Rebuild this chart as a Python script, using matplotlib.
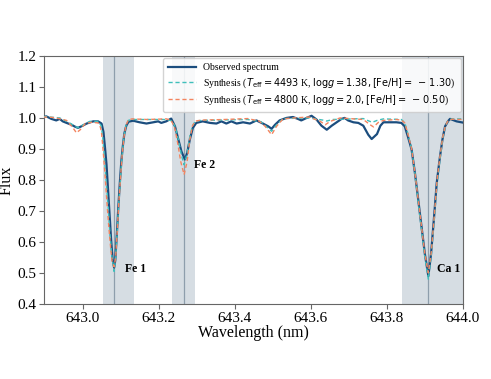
import matplotlib
matplotlib.use("Agg")
import matplotlib.pyplot as plt

plt.rcParams["font.family"] = ["Liberation Serif", "DejaVu Serif"]
plt.rcParams["mathtext.fontset"] = "dejavusans"

# observed spectrum
obs_wave = [642.896, 642.905, 642.918, 642.931, 642.940, 642.948, 642.958, 642.971, 642.980,
            642.988, 642.997, 643.011, 643.028, 643.041, 643.050, 643.055, 643.059, 643.063,
            643.067, 643.071, 643.075, 643.079, 643.083, 643.086, 643.090, 643.094, 643.098,
            643.102, 643.106, 643.110, 643.115, 643.121, 643.133, 643.150, 643.168, 643.186,
            643.199, 643.207, 643.220, 643.233, 643.243, 643.252, 643.260, 643.269, 643.275,
            643.282, 643.290, 643.299, 643.316, 643.335, 643.352, 643.365, 643.378, 643.391,
            643.405, 643.422, 643.440, 643.457, 643.474, 643.488, 643.497, 643.506, 643.518,
            643.536, 643.553, 643.566, 643.575, 643.589, 643.602, 643.615, 643.628, 643.642,
            643.655, 643.668, 643.681, 643.689, 643.698, 643.712, 643.725, 643.738, 643.751,
            643.760, 643.774, 643.783, 643.791, 643.808, 643.825, 643.838, 643.847, 643.855,
            643.865, 643.874, 643.883, 643.892, 643.900, 643.909, 643.916, 643.924, 643.931,
            643.939, 643.946, 643.953, 643.961, 643.966, 643.983, 644.000]
obs_flux = [1.003, 1.005, 0.997, 0.992, 0.997, 0.989, 0.984, 0.978, 0.972,
            0.968, 0.973, 0.982, 0.989, 0.989, 0.982, 0.955, 0.905, 0.850,
            0.770, 0.690, 0.610, 0.545, 0.517, 0.540, 0.620, 0.710, 0.790,
            0.860, 0.910, 0.950, 0.975, 0.988, 0.991, 0.986, 0.982, 0.986,
            0.989, 0.984, 0.989, 0.998, 0.973, 0.930, 0.892, 0.866, 0.887,
            0.930, 0.968, 0.984, 0.989, 0.984, 0.982, 0.989, 0.982, 0.989,
            0.982, 0.986, 0.982, 0.992, 0.982, 0.973, 0.965, 0.978, 0.992,
            1.000, 1.003, 0.997, 0.992, 1.000, 1.007, 0.995, 0.975, 0.962,
            0.975, 0.986, 0.997, 1.000, 0.992, 0.986, 0.984, 0.975, 0.946,
            0.932, 0.948, 0.975, 0.986, 0.986, 0.986, 0.984, 0.973, 0.941,
            0.898, 0.820, 0.730, 0.640, 0.560, 0.490, 0.560, 0.680, 0.790,
            0.870, 0.930, 0.973, 0.990, 0.997, 0.989, 0.985]

# synthesis Teff=4493 K
syn1_wave = [642.896, 642.940, 642.966, 642.988, 643.002, 643.019, 643.041, 643.049, 643.053,
             643.057, 643.062, 643.067, 643.072, 643.077, 643.083, 643.087, 643.091, 643.095,
             643.100, 643.104, 643.109, 643.114, 643.120, 643.130, 643.221, 643.236, 643.244,
             643.252, 643.260, 643.267, 643.274, 643.282, 643.289, 643.297, 643.312, 643.434,
             643.469, 643.485, 643.497, 643.510, 643.527, 643.596, 643.632, 643.642, 643.657,
             643.738, 643.753, 643.762, 643.774, 643.791, 643.838, 643.847, 643.855, 643.865,
             643.874, 643.883, 643.892, 643.900, 643.909, 643.917, 643.925, 643.932, 643.940,
             643.947, 643.954, 643.961, 643.971, 644.000]
syn1_flux = [1.005, 1.000, 0.984, 0.968, 0.978, 0.989, 0.989, 0.975, 0.940,
             0.880, 0.800, 0.720, 0.630, 0.555, 0.505, 0.550, 0.630, 0.720,
             0.810, 0.880, 0.940, 0.975, 0.992, 0.995, 0.995, 0.990, 0.970,
             0.930, 0.880, 0.849, 0.880, 0.940, 0.975, 0.990, 0.992, 0.995,
             0.988, 0.970, 0.957, 0.978, 0.998, 1.000, 0.993, 0.990, 0.995,
             0.998, 0.990, 0.986, 0.992, 0.997, 0.995, 0.985, 0.950, 0.900,
             0.820, 0.720, 0.630, 0.550, 0.480, 0.560, 0.680, 0.790, 0.870,
             0.935, 0.975, 0.992, 0.997, 0.997]

# synthesis Teff=4800 K
syn2_wave = [642.896, 642.918, 642.931, 642.958, 642.975, 642.984, 642.994, 643.007, 643.024,
             643.041, 643.047, 643.050, 643.054, 643.059, 643.064, 643.069, 643.074, 643.078,
             643.083, 643.087, 643.091, 643.095, 643.100, 643.104, 643.109, 643.114, 643.120,
             643.130, 643.170, 643.221, 643.233, 643.242, 643.250, 643.258, 643.267, 643.275,
             643.282, 643.289, 643.297, 643.312, 643.373, 643.434, 643.464, 643.480, 643.497,
             643.510, 643.527, 643.555, 643.596, 643.625, 643.638, 643.651, 643.677, 643.738,
             643.756, 643.765, 643.778, 643.791, 643.825, 643.838, 643.847, 643.855, 643.865,
             643.874, 643.883, 643.892, 643.900, 643.909, 643.917, 643.925, 643.932, 643.940,
             643.947, 643.954, 643.961, 643.971, 644.000]
syn2_flux = [1.003, 1.002, 1.000, 0.992, 0.968, 0.952, 0.962, 0.982, 0.986,
             0.984, 0.970, 0.952, 0.898, 0.820, 0.730, 0.650, 0.580, 0.535,
             0.520, 0.550, 0.630, 0.720, 0.810, 0.880, 0.940, 0.975, 0.993,
             0.997, 0.995, 0.997, 0.992, 0.970, 0.920, 0.860, 0.817, 0.860,
             0.930, 0.975, 0.990, 0.993, 0.995, 0.998, 0.990, 0.973, 0.946,
             0.973, 0.997, 1.000, 1.003, 0.989, 0.978, 0.989, 1.000, 0.995,
             0.978, 0.971, 0.986, 0.992, 0.995, 0.993, 0.984, 0.950, 0.900,
             0.820, 0.730, 0.640, 0.560, 0.500, 0.570, 0.690, 0.800, 0.880,
             0.940, 0.975, 0.992, 0.996, 0.995]

line_names = ["Fe 1", "Fe 2", "Ca 1"]
line_centers = [643.083, 643.267, 643.909]
band_lo = [643.054, 643.234, 643.839]
band_hi = [643.136, 643.295, 644.0]
label_x = [643.111, 643.293, 643.931]
label_y = [0.514, 0.847, 0.514]

fig = plt.figure(figsize=(4.91, 3.79), dpi=100)
ax = fig.add_axes([0.0906, 0.198, 0.8523, 0.6544])

for lo, hi, c in zip(band_lo, band_hi, line_centers):
    ax.axvspan(lo, hi, color="#d6dde3", lw=0, zorder=0)
    ax.axvline(c, color="#8e9eac", lw=0.9, zorder=1)

ax.plot(obs_wave, obs_flux, color="#1b4d7e", lw=1.6, zorder=3, label="Observed spectrum")
ax.plot(syn1_wave, syn1_flux, color="#3fbfbb", lw=1.0, ls=(0, (3, 2)), zorder=4,
        label=r"Synthesis ($T_{\rm eff}=4493$ K, ${\rm log}g=1.38, {\rm [Fe/H]}=\,-\,1.30$)")
ax.plot(syn2_wave, syn2_flux, color="#f3845f", lw=1.0, ls=(0, (3, 2)), zorder=4,
        label=r"Synthesis ($T_{\rm eff}=4800$ K, ${\rm log}g=2.0, {\rm [Fe/H]}=\,-\,0.50$)")

for name, x, y in zip(line_names, label_x, label_y):
    ax.text(x, y, name, fontsize=8.5, fontweight="bold", ha="left", va="center")

ax.set_xlim(642.9, 644.0)
ax.set_ylim(0.4, 1.2)
ax.set_xticks([643.0, 643.2, 643.4, 643.6, 643.8, 644.0])
ax.set_yticks([0.4, 0.5, 0.6, 0.7, 0.8, 0.9, 1.0, 1.1, 1.2])
ax.set_xlabel("Wavelength (nm)", fontsize=11.5, labelpad=0)
ax.set_ylabel("Flux", fontsize=11.5, labelpad=2)
ax.tick_params(labelsize=11, color="#666666", length=3.5, width=0.8, pad=2)
for s in ax.spines.values():
    s.set_color("#666666")
    s.set_linewidth(0.8)

ax.legend(loc="upper right", fontsize=7.0, framealpha=0.85, borderaxespad=0.2,
          handlelength=2.8, labelspacing=0.4, borderpad=0.55, edgecolor="#cccccc")

fig.savefig("out.png", dpi=100)
